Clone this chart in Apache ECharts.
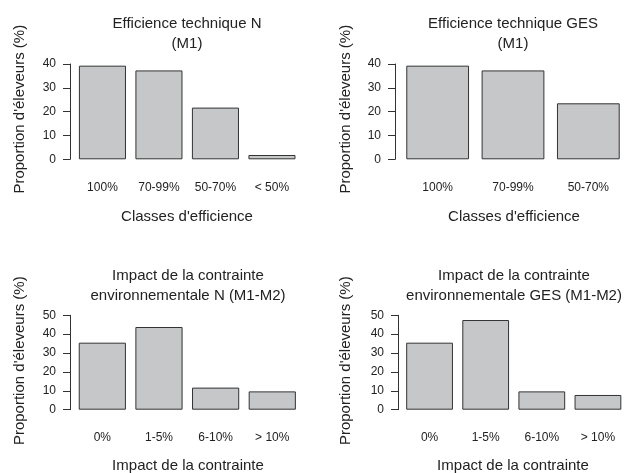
<!DOCTYPE html>
<html>
<head>
<meta charset="utf-8">
<script src="https://cdn.jsdelivr.net/npm/echarts@6/dist/echarts.min.js"></script>
<style>html,body{margin:0;padding:0;background:#fff}#c{width:626px;height:473px}</style>
</head>
<body>
<div id="c"></div>
<script>
// Data
const catsEffN = ['100%', '70-99%', '50-70%', '< 50%'];
const valsEffN = [39.3, 37.3, 21.7, 1.8];
const catsEffGES = ['100%', '70-99%', '50-70%'];
const valsEffGES = [39.3, 37.3, 23.5];
const catsImpact = ['0%', '1-5%', '6-10%', '> 10%'];
const valsImpN = [35.5, 43.8, 11.7, 9.7];
const valsImpGES = [35.5, 47.5, 9.7, 7.8];
const yTitle = "Proportion d'éleveurs (%)";
const titles = [
  'Efficience technique N\n(M1)',
  'Efficience technique GES\n(M1)',
  'Impact de la contrainte\nenvironnementale N (M1-M2)',
  'Impact de la contrainte\nenvironnementale GES (M1-M2)'
];
const xTitles = ["Classes d'efficience", "Classes d'efficience", 'Impact de la contrainte', 'Impact de la contrainte'];

const FONT = 'Liberation Sans, Arial, sans-serif';
const TXT = '#222';
const chart = echarts.init(document.getElementById('c'));

const grids = [
  {left: 74.2, top: 64, width: 226, height: 95.3},
  {left: 400, top: 64, width: 230.4, height: 95.3},
  {left: 74, top: 315.3, width: 226.6, height: 94.4},
  {left: 401.5, top: 315.3, width: 225, height: 94.4}
];
const yOffsets = [4.2, 5, 4, 3.5];
const yMax = [40, 40, 50, 50];
const cats = [catsEffN, catsEffGES, catsImpact, catsImpact];
const vals = [valsEffN, valsEffGES, valsImpN, valsImpGES];

const xAxes = cats.map((c, i) => ({
  type: 'category', gridIndex: i, data: c,
  axisLine: {show: false}, axisTick: {show: false},
  axisLabel: {margin: 22, fontSize: 12, color: TXT, fontFamily: FONT, interval: 0}
}));
const yAxes = yMax.map((m, i) => ({
  type: 'value', gridIndex: i, min: 0, max: m, interval: 10, offset: yOffsets[i],
  axisLine: {show: true, lineStyle: {color: '#333', width: 1}},
  axisTick: {show: true, length: 7, lineStyle: {color: '#333', width: 1}},
  axisLabel: {margin: 14, fontSize: 12, color: TXT, fontFamily: FONT},
  splitLine: {show: false}
}));
const series = vals.map((v, i) => ({
  type: 'bar', xAxisIndex: i, yAxisIndex: i, data: v,
  barCategoryGap: '16.7%',
  itemStyle: {color: '#c6c7c8', borderColor: '#333', borderWidth: 1},
  silent: true
}));

const titleCenters = [[187, 33.5], [513, 33.5], [188, 286], [514, 286]];
const xTitleCenters = [[187, 216.7], [514, 216.7], [188, 466], [513, 466]];
const yTitleCenters = [[20, 109.2], [346, 109.2], [20, 360.7], [346, 360.7]];

const graphic = [];
for (let i = 0; i < 4; i++) {
  graphic.push({type: 'text', x: titleCenters[i][0], y: titleCenters[i][1],
    style: {text: titles[i], align: 'center', verticalAlign: 'middle', font: '15px ' + FONT, fill: TXT, lineHeight: 20}});
  graphic.push({type: 'text', x: xTitleCenters[i][0], y: xTitleCenters[i][1],
    style: {text: xTitles[i], align: 'center', verticalAlign: 'middle', font: '15px ' + FONT, fill: TXT}});
  graphic.push({type: 'text', x: yTitleCenters[i][0], y: yTitleCenters[i][1], rotation: Math.PI / 2,
    style: {text: yTitle, align: 'center', verticalAlign: 'middle', font: '15px ' + FONT, fill: TXT}});
}

chart.setOption({
  animation: false,
  backgroundColor: '#fff',
  grid: grids,
  xAxis: xAxes,
  yAxis: yAxes,
  series: series,
  graphic: graphic
});
</script>
</body>
</html>
